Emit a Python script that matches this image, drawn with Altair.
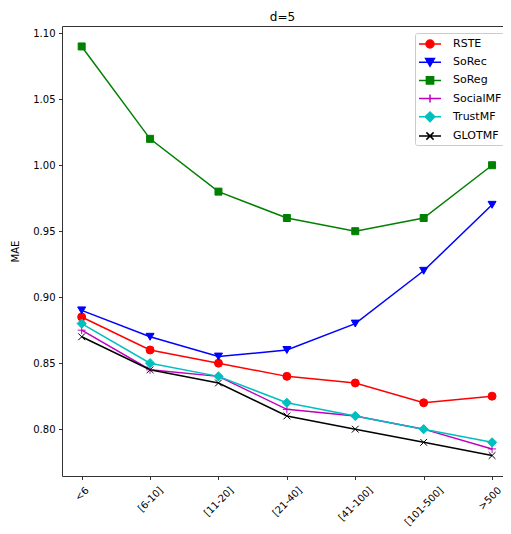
import json
import altair as alt
import pandas as pd

categories = ["<6", "[6-10]", "[11-20]", "[21-40]", "[41-100]", "[101-500]", ">500"]
series = ["RSTE", "SoRec", "SoReg", "SocialMF", "TrustMF", "GLOTMF"]
rste = [0.885, 0.860, 0.850, 0.840, 0.835, 0.820, 0.825]
sorec = [0.890, 0.870, 0.855, 0.860, 0.880, 0.920, 0.970]
soreg = [1.090, 1.020, 0.980, 0.960, 0.950, 0.960, 1.000]
socialmf = [0.875, 0.845, 0.840, 0.815, 0.810, 0.800, 0.785]
trustmf = [0.880, 0.850, 0.840, 0.820, 0.810, 0.800, 0.790]
glotmf = [0.870, 0.845, 0.835, 0.810, 0.800, 0.790, 0.780]
y_ticks = [0.80, 0.85, 0.90, 0.95, 1.00, 1.05, 1.10]

values = [rste, sorec, soreg, socialmf, trustmf, glotmf]
rows = []
for s, vals in zip(series, values):
    for i, v in enumerate(vals):
        rows.append({"idx": i, "series": s, "mae": v})
df = pd.DataFrame(rows)

colors = ["#ff0000", "#0000ff", "#008000", "#bf00bf", "#00bfbf", "#000000"]
plot_shapes = [
    "circle",
    "triangle-down",
    "M-0.875,-0.875H0.875V0.875H-0.875Z",
    "M-1,0H1M0,-1V1",
    "M0,-1.15L1.15,0L0,1.15L-1.15,0Z",
    "M-0.85,-0.85L0.85,0.85M-0.85,0.85L0.85,-0.85",
]
line_path = "M-0.875,0H1.875"
legend_shapes = [
    line_path + "M0,0A0.5,0.5,0,1,1,1,0A0.5,0.5,0,1,1,0,0Z",
    line_path + "M0.5,0.5L-0.05,-0.45L1.05,-0.45Z",
    line_path + "M0.05,-0.45H0.95V0.45H0.05Z",
    line_path + "M0.5,-0.5V0.5",
    line_path + "M0.5,-0.6L1.1,0L0.5,0.6L-0.1,0Z",
    line_path + "M0.05,-0.45L0.95,0.45M0.05,0.45L0.95,-0.45",
]

PLOT_W = 441
PLOT_H = 450
STEP = 68.4
X0 = -0.2876
X1 = X0 + PLOT_W / STEP

# per-label vertical padding so that rotated labels hang below the tick like matplotlib
label_pads = [14.1, 19.7, 21.9, 21.9, 24.2, 26.5, 18.6]
pad_cond = {
    "condition": [{"test": f"datum.value == {i}", "value": p} for i, p in enumerate(label_pads)],
    "value": 20,
}
off_cond = {
    "condition": [{"test": "datum.value == 6", "value": -2.5}],
    "value": 0,
}

label_expr = "[" + ",".join(json.dumps(c) for c in categories) + "][datum.value]"
xscale = alt.Scale(domain=[X0, X1], nice=False, zero=False)

bottom_axis = alt.Axis(
    values=list(range(len(categories))),
    labelExpr=label_expr,
    labelAngle=-45,
    labelAlign="center",
    labelBaseline="middle",
    labelPadding=pad_cond,
    labelOffset=off_cond,
    labelOverlap=False,
    labelBound=False,
    labelFlush=False,
    tickSize=3.5,
    grid=False,
    title=None,
)
top_axis = alt.Axis(
    orient="top",
    labels=False,
    ticks=False,
    domain=True,
    grid=False,
    title=None,
)

y_enc = alt.Y(
    "mae:Q",
    scale=alt.Scale(domain=[0.7645, 1.1055], nice=False, zero=False),
    axis=alt.Axis(
        values=y_ticks,
        format=".2f",
        title="MAE",
        tickSize=3.5,
        labelPadding=3.5,
        titlePadding=12,
        titleFontWeight="normal",
        titleFontSize=10,
        grid=False,
    ),
)

cscale = alt.Scale(domain=series, range=colors)

lines = alt.Chart(df).mark_line(strokeWidth=1.5).encode(
    x=alt.X("idx:Q", scale=xscale, axis=bottom_axis),
    y=y_enc,
    stroke=alt.Stroke("series:N", scale=cscale, legend=None),
    detail="series:N",
)

points = alt.Chart(df).mark_point(filled=True, size=64, strokeWidth=1, opacity=1).encode(
    x=alt.X("idx:Q", scale=xscale, axis=None),
    y=y_enc,
    fill=alt.Fill("series:N", scale=cscale, legend=None),
    stroke=alt.Stroke("series:N", scale=cscale, legend=None),
    shape=alt.Shape("series:N", scale=alt.Scale(domain=series, range=plot_shapes), legend=None),
)

leg = alt.Legend(
    title=None,
    orient="none",
    legendX=353,
    legendY=7,
    symbolSize=256,
    symbolStrokeWidth=1.5,
    labelFontSize=11,
    labelFont="DejaVu Sans",
    labelColor="#000000",
    labelOffset=18,
    rowPadding=2.2,
    padding=2,
    fillColor="#ffffff",
    strokeColor="#cccccc",
    cornerRadius=2,
)

legend_layer = alt.Chart(df).transform_filter("false").mark_point(
    filled=True, size=256, strokeWidth=1.5, opacity=1
).encode(
    x=alt.X("idx:Q", scale=xscale, axis=top_axis),
    y=y_enc,
    fill=alt.Fill("series:N", scale=cscale, legend=leg),
    stroke=alt.Stroke("series:N", scale=cscale, legend=leg),
    shape=alt.Shape("series:N", scale=alt.Scale(domain=series, range=legend_shapes), legend=leg),
)

chart = (
    alt.layer(lines, points, legend_layer)
    .resolve_scale(fill="independent", stroke="independent", shape="independent")
    .resolve_axis(x="independent")
    .properties(
        width=PLOT_W,
        height=PLOT_H,
        autosize=alt.AutoSizeParams(type="none"),
        padding={"left": 54, "top": 18, "right": 0, "bottom": 52},
        title=alt.Title(
            "d=5",
            fontSize=12,
            fontWeight="normal",
            font="DejaVu Sans",
            color="#000000",
            offset=-7,
            anchor="middle",
            baseline="alphabetic",
        ),
    )
    .configure(font="DejaVu Sans")
    .configure_view(stroke=None)
    .configure_axis(
        domainColor="#333333",
        domainWidth=1,
        tickColor="#333333",
        tickWidth=1,
        labelFont="DejaVu Sans",
        labelFontSize=10,
        labelColor="#000000",
        titleFont="DejaVu Sans",
        titleColor="#000000",
    )
)

chart.save("out.html", embed_options={"renderer": "svg", "actions": False})
